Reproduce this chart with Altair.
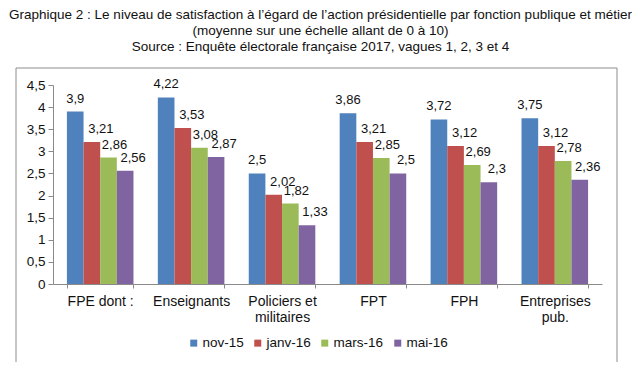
import altair as alt
import pandas as pd

categories = ["FPE dont :", "Enseignants", "Policiers et\nmilitaires", "FPT", "FPH", "Entreprises\npub."]
series = ["nov-15", "janv-16", "mars-16", "mai-16"]
nov15 = [3.9, 4.22, 2.5, 3.86, 3.72, 3.75]
janv16 = [3.21, 3.53, 2.02, 3.21, 3.12, 3.12]
mars16 = [2.86, 3.08, 1.82, 2.85, 2.69, 2.78]
mai16 = [2.56, 2.87, 1.33, 2.5, 2.3, 2.36]
colors = ["#4F81BD", "#C0504D", "#9BBB59", "#8064A2"]
y_ticks = [0, 0.5, 1, 1.5, 2, 2.5, 3, 3.5, 4, 4.5]
title_lines = [
    "Graphique 2 : Le niveau de satisfaction à l’égard de l’action présidentielle par fonction publique et métier",
    "(moyenne sur une échelle allant de 0 à 10)",
    "Source : Enquête électorale française 2017, vagues 1, 2, 3 et 4",
]

rows = []
for s, vals in zip(series, [nov15, janv16, mars16, mai16]):
    for c, v in zip(categories, vals):
        rows.append({"cat": c, "serie": s, "value": v})
df = pd.DataFrame(rows)

FONT = "Liberation Sans"

x_enc = alt.X(
    "cat:N",
    sort=categories,
    scale=alt.Scale(paddingInner=0.268, paddingOuter=0.153),
    axis=alt.Axis(
        title=None,
        labelAngle=0,
        tickBand="extent",
        domainColor="#8a8a8a",
        tickColor="#8a8a8a",
        tickSize=4,
        labelPadding=6,
        labelFontSize=14,
        labelColor="#111",
        labelLineHeight=16,
        labelExpr="split(datum.label, '\\n')",
    ),
)
y_enc = alt.Y(
    "value:Q",
    scale=alt.Scale(domain=[0, 4.5], nice=False),
    axis=alt.Axis(
        title=None,
        values=y_ticks,
        grid=False,
        domainColor="#8a8a8a",
        tickColor="#8a8a8a",
        tickSize=5,
        labelPadding=3,
        labelFontSize=13.5,
        labelColor="#111",
        labelExpr="replace(format(datum.value, '.1~f'), '.', ',')",
    ),
)
xoff = alt.XOffset("serie:N", sort=series, scale=alt.Scale(domain=series, paddingInner=0, paddingOuter=0))

base = alt.Chart(df)

bars = base.mark_bar().encode(
    x=x_enc,
    y=y_enc,
    xOffset=xoff,
    color=alt.Color(
        "serie:N",
        scale=alt.Scale(domain=series, range=colors),
        legend=alt.Legend(
            orient="none",
            legendX=134,
            legendY=251,
            direction="horizontal",
            columns=4,
            title=None,
            symbolType="square",
            symbolSize=49,
            symbolStrokeWidth=0,
            symbolOpacity=1,
            labelFontSize=13.5,
            labelColor="#111",
            labelOffset=2,
            columnPadding=7,
        ),
    ),
)

dxs = [0, 9, 6, 8]
text_layers = []
for s, d in zip(series, dxs):
    t = (
        base.transform_filter(alt.datum.serie == s)
        .transform_calculate(lbl="replace(toString(datum.value), '.', ',')")
        .mark_text(fontSize=13, color="#111", baseline="alphabetic", dy=-9, dx=d)
        .encode(x=x_enc, y=y_enc, xOffset=xoff, text="lbl:N")
    )
    text_layers.append(t)

frame = (
    alt.Chart(pd.DataFrame({"a": [0]}))
    .mark_rect(filled=False, stroke="#8c8c8c", strokeWidth=1)
    .encode(x=alt.value(-37), x2=alt.value(564), y=alt.value(-17), y2=alt.value(278))
)

chart = (
    alt.layer(frame, bars, *text_layers)
    .properties(
        width=549,
        height=199,
        padding={"left": 45, "top": 77, "right": 30, "bottom": 78},
        autosize=alt.AutoSizeParams(type="none"),
        title=alt.TitleParams(
            text=title_lines,
            fontSize=13.5,
            fontWeight="normal",
            color="#111",
            lineHeight=16,
            anchor="middle",
            dx=-7,
            offset=14,
        ),
    )
    .configure(font=FONT, background="white")
    .configure_view(stroke=None)
)

chart.save("out.html", embed_options={"renderer": "svg", "actions": False})
